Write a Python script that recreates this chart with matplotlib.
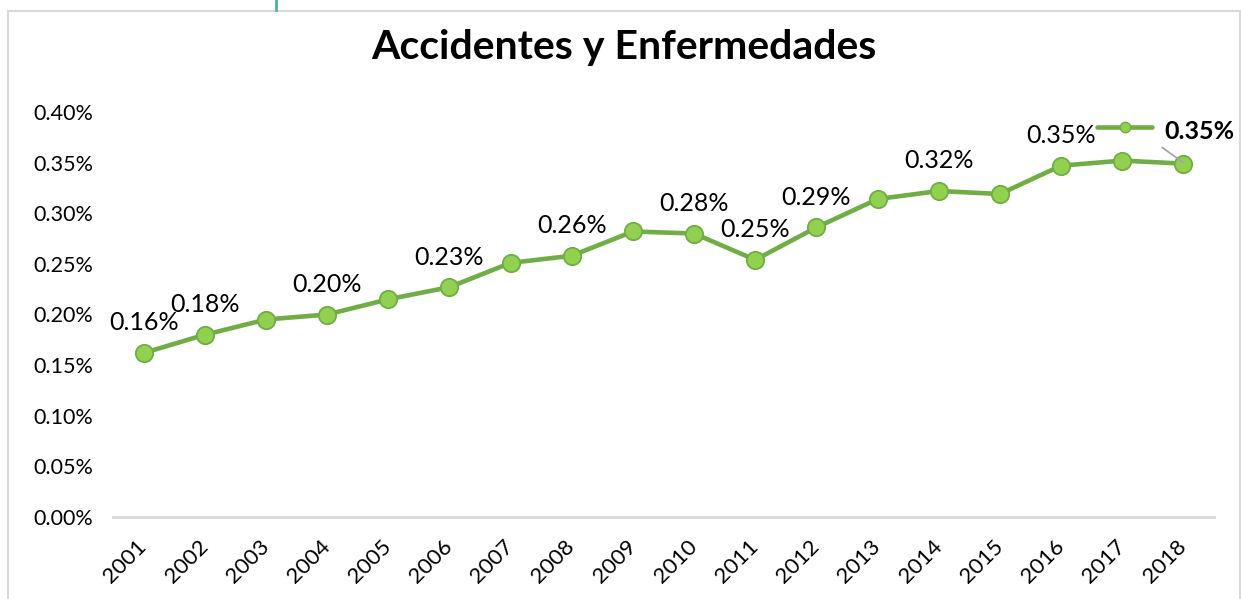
import matplotlib
matplotlib.use("Agg")
import matplotlib.pyplot as plt
from matplotlib.lines import Line2D
from matplotlib.patches import Rectangle
from matplotlib.transforms import IdentityTransform
from matplotlib.ticker import FuncFormatter, MultipleLocator

# ---- data ----
years = ["2001", "2002", "2003", "2004", "2005", "2006", "2007", "2008", "2009",
         "2010", "2011", "2012", "2013", "2014", "2015", "2016", "2017", "2018"]
values = [0.00162, 0.00180, 0.00195, 0.00200, 0.00215, 0.00227, 0.00251, 0.00258, 0.00282,
          0.00280, 0.00254, 0.00286, 0.00314, 0.00322, 0.00319, 0.00347, 0.00352, 0.00349]
title = "Accidentes y Enfermedades"
labeled_years = ["2001", "2002", "2004", "2006", "2008", "2010", "2011", "2012", "2014", "2016"]

FONT = ["Lato", "DejaVu Sans"]
plt.rcParams["font.family"] = FONT

W, H = 1241, 599
fig = plt.figure(figsize=(W / 100, H / 100), dpi=100)
fig.patch.set_facecolor("white")

# chart border
fig.add_artist(Rectangle((8 / W, -0.05), (1240 - 8) / W, (H - 10.5) / H + 0.05,
                         transform=fig.transFigure, fill=False, edgecolor="#D9D9D9", lw=1.5))
# teal connector line at top
fig.add_artist(Line2D([276 / W, 276 / W], [1, 1 - 10 / H], transform=fig.transFigure,
                      color="#4FB39A", lw=2))

left, right, top, bottom = 113, 1214, 112, 517
ax = fig.add_axes([left / W, 1 - bottom / H, (right - left) / W, (bottom - top) / H])
x = list(range(len(years)))
ax.plot(x, values, color="#70AD47", lw=3.3, marker="o", markersize=12.5,
        markerfacecolor="#92D050", markeredgecolor="#70AD47", markeredgewidth=1.3,
        solid_capstyle="round", zorder=3)
ax.set_xlim(-0.5, len(years) - 0.5)
ax.set_ylim(0, 0.004)
ax.yaxis.set_major_locator(MultipleLocator(0.0005))
ax.yaxis.set_major_formatter(FuncFormatter(lambda v, p: f"{v * 100:.2f}%"))
ax.set_xticks(x)
ax.set_xticklabels(years, rotation=45, ha="right", va="center", rotation_mode="anchor")
for s in ["left", "right", "top"]:
    ax.spines[s].set_visible(False)
ax.spines["bottom"].set_color("#D9D9D9")
ax.spines["bottom"].set_linewidth(2)
ax.tick_params(axis="both", length=0, colors="#000000")
ax.tick_params(axis="y", pad=14, labelsize=15.5)
ax.tick_params(axis="x", pad=19, labelsize=16)
ax.set_facecolor("none")

fig.text(624 / W, 1 - 48 / H, title, ha="center", va="center", fontsize=29.5,
         fontweight="bold", color="#000000")

# data labels
for i, yr in enumerate(years):
    if yr in labeled_years:
        ax.annotate(f"{values[i] * 100:.2f}%", (i, values[i]), xytext=(0, 30),
                    textcoords="offset pixels", ha="center", va="center",
                    fontsize=18, color="#000000", zorder=4)

# last point: label with legend key and leader line
px, py = ax.transData.transform((len(years) - 1, values[-1]))
ident = IdentityTransform()
fig.add_artist(Line2D([px - 21, px], [py + 16, py + 1], transform=ident,
                      color="#A6A6A6", lw=1.3, zorder=2))
ky = py + 37
fig.add_artist(Line2D([px - 86, px - 31], [ky, ky], transform=ident,
                      color="#70AD47", lw=3.3, solid_capstyle="round"))
fig.add_artist(Line2D([px - 58], [ky], transform=ident, marker="o", markersize=7.5,
                      markerfacecolor="#92D050", markeredgecolor="#70AD47",
                      markeredgewidth=1.0, lw=0))
fig.text((px + 16) / W, (py + 32) / H, f"{values[-1] * 100:.2f}%", ha="center",
         va="center", fontsize=18, fontweight="bold", color="#000000")

fig.savefig("out.png", dpi=100, facecolor="white")
